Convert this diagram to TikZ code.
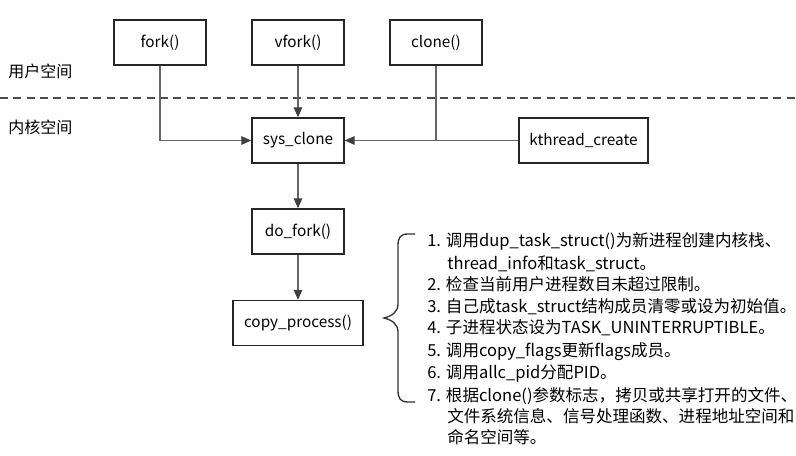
\documentclass[tikz,border=0pt]{standalone}
\usepackage{fontspec}
\setmainfont{Noto Sans CJK SC}
\usetikzlibrary{arrows.meta}
\begin{document}
\begin{tikzpicture}[x=0.75pt,y=-0.75pt,
  box/.style={draw=black!85,line width=1.1pt,minimum height=45*0.75pt,inner sep=0pt,font=\fontsize{11.5}{13}\selectfont},
  conn/.style={draw=black!60,line width=0.9pt},
  arr/.style={conn,-{Triangle[length=7.5pt,width=6.5pt,fill=black!75,color=black!75]}},
  lbl/.style={anchor=west,inner sep=0pt,font=\fontsize{12}{14}\selectfont},
  item/.style={anchor=base west,inner sep=0pt,font=\fontsize{12.4}{14}\selectfont}]
\useasboundingbox (0,0) rectangle (796,456);
\node[box,minimum width=92*0.75pt] (fork) at (160,42.5) {fork()};
\node[box,minimum width=92*0.75pt] (vfork) at (298,42.5) {vfork()};
\node[box,minimum width=92*0.75pt] (clone) at (436,42.5) {clone()};
\node[box,minimum width=92*0.75pt] (sys) at (298,140.5) {sys\_clone};
\node[box,minimum width=129*0.75pt] (kth) at (583.5,140.5) {kthread\_create};
\node[box,minimum width=92*0.75pt] (dofork) at (298,231.5) {do\_fork()};
\node[box,minimum width=130*0.75pt] (copy) at (298,323) {copy\_process()};
\node[lbl] (us) at (8,71) {用户空间};
\node[lbl] (ks) at (8,127) {内核空间};
\coordinate (dl) at (0,98);
\coordinate (dr) at (796,98);
\draw[black!70,line width=0.9pt,dash pattern=on 6pt off 4pt] (dl) -- (dr);
\draw[arr] (fork.south) |- (sys.west);
\draw[arr] (vfork.south) -- (sys.north);
\draw[conn] (clone.south) |- (sys.east);
\draw[arr] (kth.west) -- (sys.east);
\draw[arr] (sys.south) -- (dofork.north);
\draw[arr] (dofork.south) -- (copy.north);
% brace
\coordinate (bt) at (415,234);
\coordinate (bb) at (415,402);
\coordinate (btip) at (384,318);
\draw[black!80,line width=1pt] (bt) -- (408,234) .. controls (400,234) and (398,238) .. (398,246) -- (398,304) .. controls (398,312) and (392,316) .. (btip) .. controls (392,320) and (398,324) .. (398,332) -- (398,390) .. controls (398,398) and (400,402) .. (408,402) -- (bb);
\node[item] (l1) at (427,247) {1. 调用dup\_task\_struct()为新进程创建内核栈、};
\node[item] (l2) at (447,269) {thread\_info和task\_struct。};
\node[item] (l3) at (427,290) {2. 检查当前用户进程数目未超过限制。};
\node[item] (l4) at (427,312) {3. 自己成task\_struct结构成员清零或设为初始值。};
\node[item] (l5) at (427,333) {4. 子进程状态设为TASK\_UNINTERRUPTIBLE。};
\node[item] (l6) at (427,356) {5. 调用copy\_flags更新flags成员。};
\node[item] (l7) at (427,378) {6. 调用allc\_pid分配PID。};
\node[item] (l8) at (427,401) {7. 根据clone()参数标志，拷贝或共享打开的文件、};
\node[item] (l9) at (447,422) {文件系统信息、信号处理函数、进程地址空间和};
\node[item] (l10) at (447,443) {命名空间等。};
\end{tikzpicture}
\end{document}
